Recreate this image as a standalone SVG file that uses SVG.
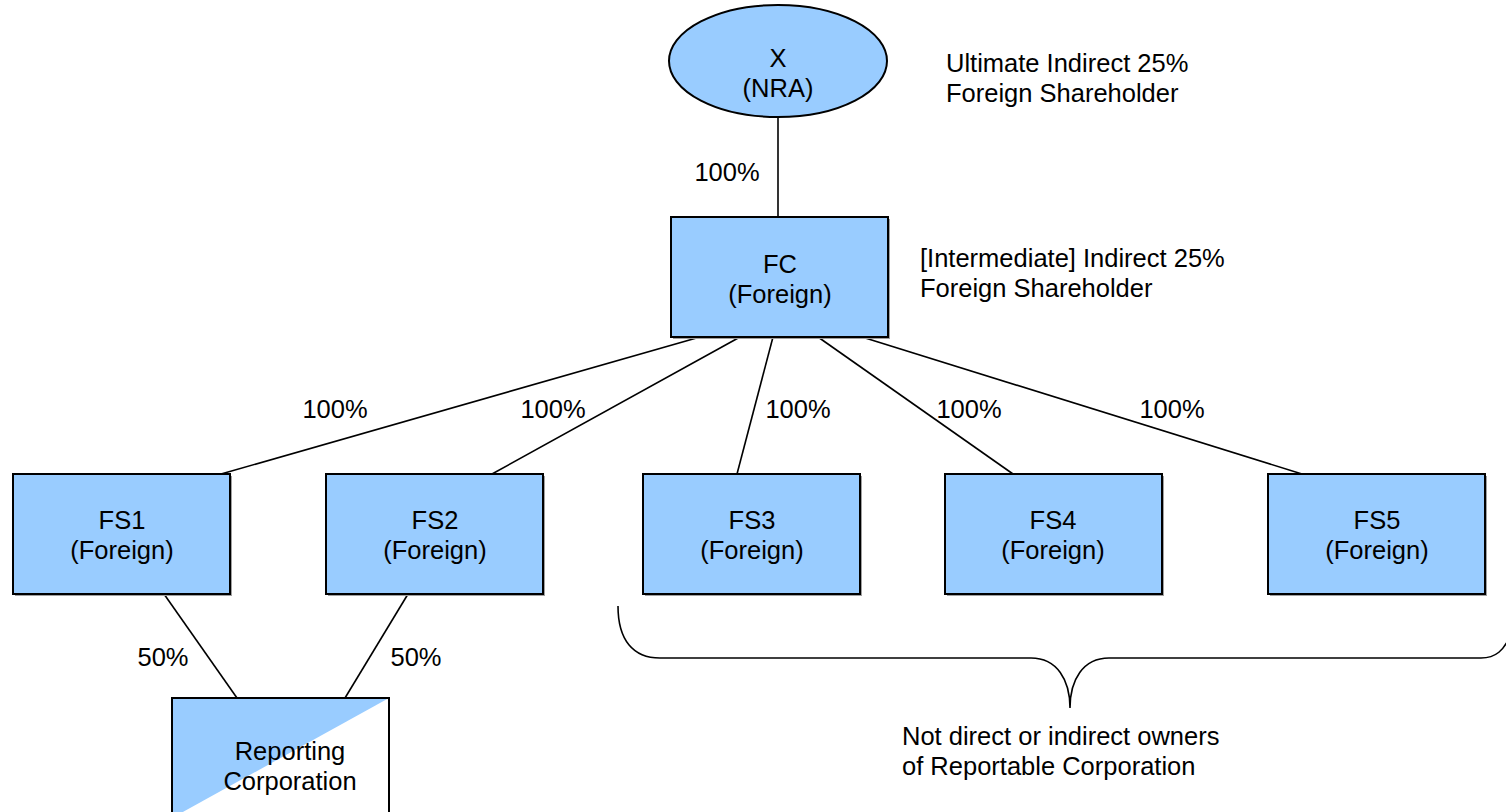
<svg xmlns="http://www.w3.org/2000/svg" width="1506" height="812" viewBox="0 0 1506 812">
<style>
text{font-family:"Liberation Sans",Arial,sans-serif;font-size:25.5px;fill:#000}
.c{text-anchor:middle}
.box{fill:#99ccff;stroke:#000;stroke-width:2}
.sh{fill:#a0a0a0}
.ln{stroke:#000;stroke-width:1.6;fill:none}
</style>
<rect width="1506" height="812" fill="#fff"/>
<g id="connectors">
<line class="ln" x1="778" y1="117" x2="778" y2="217"/>
<line class="ln" x1="700" y1="337" x2="221" y2="474"/>
<line class="ln" x1="740" y1="337" x2="492" y2="474"/>
<line class="ln" x1="773" y1="337" x2="737" y2="474"/>
<line class="ln" x1="818" y1="337" x2="1013" y2="474"/>
<line class="ln" x1="862" y1="337" x2="1302" y2="474"/>
<line class="ln" x1="164" y1="594" x2="237" y2="698"/>
<line class="ln" x1="408" y1="594" x2="345" y2="698"/>
<path class="ln" d="M618,606 C618,640 633,658 660,658 L1031,658 C1057,658 1070,680 1070,708 C1070,680 1083,658 1109,658 L1481,658 C1496,658 1504,650 1510,636"/>
</g>
<g id="labels">
<text class="c" x="727" y="181">100%</text>
<text class="c" x="335" y="418">100%</text>
<text class="c" x="553" y="418">100%</text>
<text class="c" x="798" y="418">100%</text>
<text class="c" x="969" y="418">100%</text>
<text class="c" x="1172" y="418">100%</text>
<text class="c" x="163" y="666">50%</text>
<text class="c" x="416" y="666">50%</text>
<text x="946" y="72">Ultimate Indirect 25%</text>
<text x="946" y="102">Foreign Shareholder</text>
<text x="920" y="267">[Intermediate] Indirect 25%</text>
<text x="920" y="297">Foreign Shareholder</text>
<text x="902" y="745">Not direct or indirect owners</text>
<text x="902" y="775">of Reportable Corporation</text>
</g>
<g id="X">
<ellipse class="box" cx="778" cy="61" rx="109" ry="56"/>
<text class="c" x="778" y="67">X</text>
<text class="c" x="778" y="97">(NRA)</text>
</g>
<g id="FC">
<rect class="sh" x="673" y="219" width="217" height="120"/>
<rect class="box" x="671" y="217" width="217" height="120"/>
<text class="c" x="780" y="273">FC</text>
<text class="c" x="780" y="303">(Foreign)</text>
</g>
<g id="FS1">
<rect class="sh" x="15" y="476" width="217" height="120"/>
<rect class="box" x="13" y="474" width="217" height="120"/>
<text class="c" x="122" y="529">FS1</text>
<text class="c" x="122" y="559">(Foreign)</text>
</g>
<g id="FS2">
<rect class="sh" x="328" y="476" width="217" height="120"/>
<rect class="box" x="326" y="474" width="217" height="120"/>
<text class="c" x="435" y="529">FS2</text>
<text class="c" x="435" y="559">(Foreign)</text>
</g>
<g id="FS3">
<rect class="sh" x="645" y="476" width="217" height="120"/>
<rect class="box" x="643" y="474" width="217" height="120"/>
<text class="c" x="752" y="529">FS3</text>
<text class="c" x="752" y="559">(Foreign)</text>
</g>
<g id="FS4">
<rect class="sh" x="947" y="476" width="217" height="120"/>
<rect class="box" x="945" y="474" width="217" height="120"/>
<text class="c" x="1053" y="529">FS4</text>
<text class="c" x="1053" y="559">(Foreign)</text>
</g>
<g id="FS5">
<rect class="sh" x="1270" y="476" width="217" height="120"/>
<rect class="box" x="1268" y="474" width="217" height="120"/>
<text class="c" x="1377" y="529">FS5</text>
<text class="c" x="1377" y="559">(Foreign)</text>
</g>
<g id="Reporting">
<rect x="172" y="698" width="217" height="120" fill="#fff"/>
<polygon points="172,698 389,698 172,818" fill="#99ccff"/>
<rect x="172" y="698" width="217" height="120" fill="none" stroke="#000" stroke-width="2"/>
<text class="c" x="290" y="760">Reporting</text>
<text class="c" x="290" y="790">Corporation</text>
</g>
</svg>
